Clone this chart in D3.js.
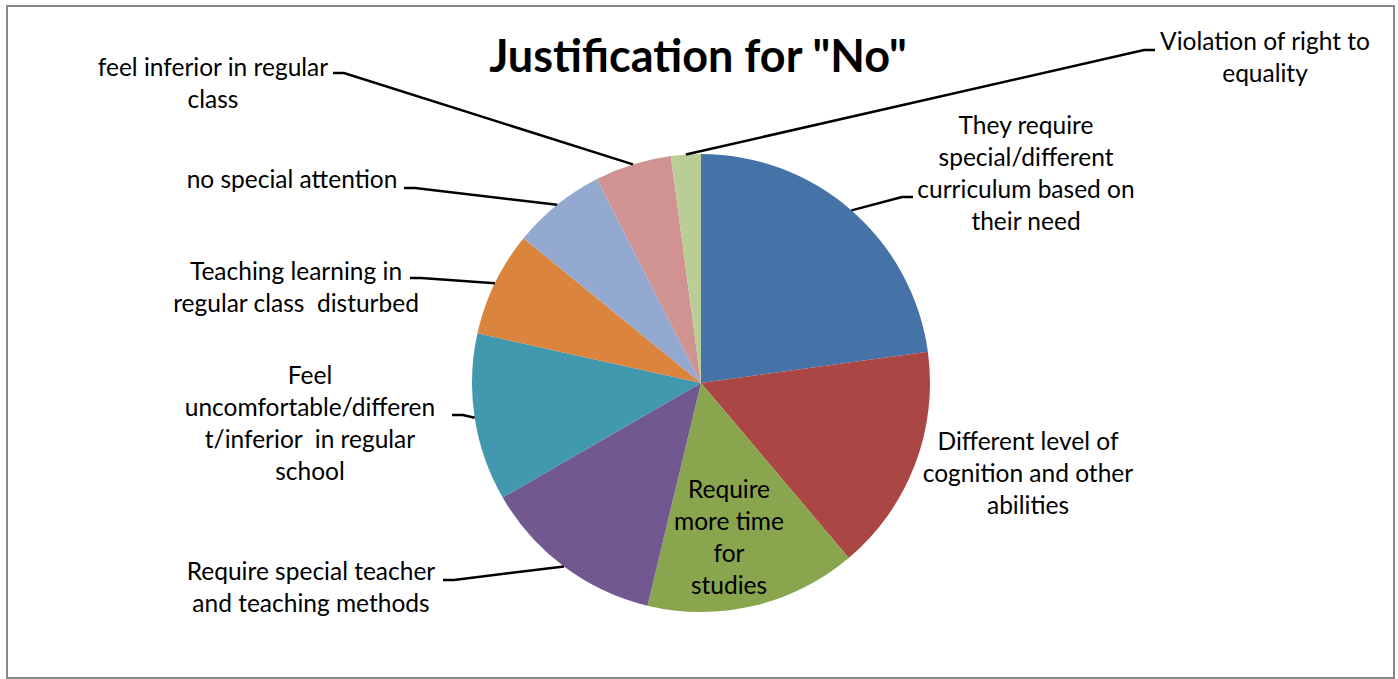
<!DOCTYPE html>
<html>
<head>
<meta charset="utf-8">
<script src="https://cdn.jsdelivr.net/npm/d3@7"></script>
<style>
  html, body { margin: 0; padding: 0; background: #fff; }
  svg text { font-family: Lato, "Open Sans", sans-serif; white-space: pre; }
</style>
</head>
<body>
<svg id="chart" width="1398" height="679"></svg>
<script>
// ---- data ----
const categories = [
  "They require special/different curriculum based on their need",
  "Different level of cognition and other abilities",
  "Require more time for studies",
  "Require special teacher and teaching methods",
  "Feel uncomfortable/different/inferior  in regular school",
  "Teaching learning in regular class  disturbed",
  "no special attention",
  "feel inferior in regular class",
  "Violation of right to equality"
];
const values = [22.8, 16.0, 14.9, 12.9, 11.8, 7.4, 6.6, 5.4, 2.1];
const labelLines = [
  ["They require", "special/different", "curriculum based on", "their need"],
  ["Different level of", "cognition and other", "abilities"],
  ["Require", "more time", "for", "studies"],
  ["Require special teacher", "and teaching methods"],
  ["Feel", "uncomfortable/differen", "t/inferior  in regular", "school"],
  ["Teaching learning in", "regular class  disturbed"],
  ["no special attention"],
  ["feel inferior in regular", "class"],
  ["Violation of right to", "equality"]
];
const colors = ["#4572A7", "#AA4643", "#89A54E", "#71588F", "#4198AF",
                "#DB843D", "#93A9CF", "#D19392", "#B9CD96"];
const title = 'Justification for "No"';

// ---- layout (positions, not data) ----
const cx = 701, cy = 383, R = 229;
const labelLayout = [
  {x: 1026, y: 134, lead: [913, 197], dir: -1},
  {x: 1028, y: 450, lead: null},
  {x: 729,  y: 498, lead: null},
  {x: 311,  y: 580, lead: [443, 580], dir: 1},
  {x: 310,  y: 384, lead: [452, 415], dir: 1},
  {x: 296,  y: 280, lead: [410, 278], dir: 1},
  {x: 292,  y: 188, lead: [404, 188], dir: 1},
  {x: 213,  y: 76,  lead: [333, 73],  dir: 1},
  {x: 1265, y: 50,  lead: [1155, 50], dir: -1}
];
const lineH = 32;

const svg = d3.select("#chart");

svg.append("rect")
  .attr("x", 7).attr("y", 6).attr("width", 1387).attr("height", 672)
  .attr("fill", "#fff").attr("stroke", "#898989").attr("stroke-width", 2);

svg.append("text")
  .attr("x", 698).attr("y", 72)
  .attr("text-anchor", "middle")
  .attr("font-size", 45).attr("font-weight", "bold")
  .attr("fill", "#000")
  .text(title);

const pie = d3.pie().sort(null).value(d => d);
const arcs = pie(values);
const arc = d3.arc().innerRadius(0).outerRadius(R);

const g = svg.append("g").attr("transform", `translate(${cx},${cy})`);
g.selectAll("path.slice")
  .data(arcs)
  .join("path")
  .attr("class", "slice")
  .attr("d", arc)
  .attr("fill", (d, i) => colors[i]);

arcs.forEach((a, i) => {
  const L = labelLayout[i];
  if (!L.lead) return;
  const mid = (a.startAngle + a.endAngle) / 2;
  const ex = cx + R * Math.sin(mid);
  const ey = cy - R * Math.cos(mid);
  const [lx, ly] = L.lead;
  const elbowX = lx + L.dir * 11;
  svg.append("path")
    .attr("d", d3.line()([[lx, ly], [elbowX, ly], [ex, ey]]))
    .attr("fill", "none")
    .attr("stroke", "#000")
    .attr("stroke-width", 2.5);
});

labelLines.forEach((lines, i) => {
  const L = labelLayout[i];
  const t = svg.append("text")
    .attr("text-anchor", "middle")
    .attr("font-size", 24.5)
    .attr("fill", "#000");
  lines.forEach((ln, k) => {
    t.append("tspan")
      .attr("x", L.x)
      .attr("y", L.y + k * lineH)
      .text(ln);
  });
});
</script>
</body>
</html>
